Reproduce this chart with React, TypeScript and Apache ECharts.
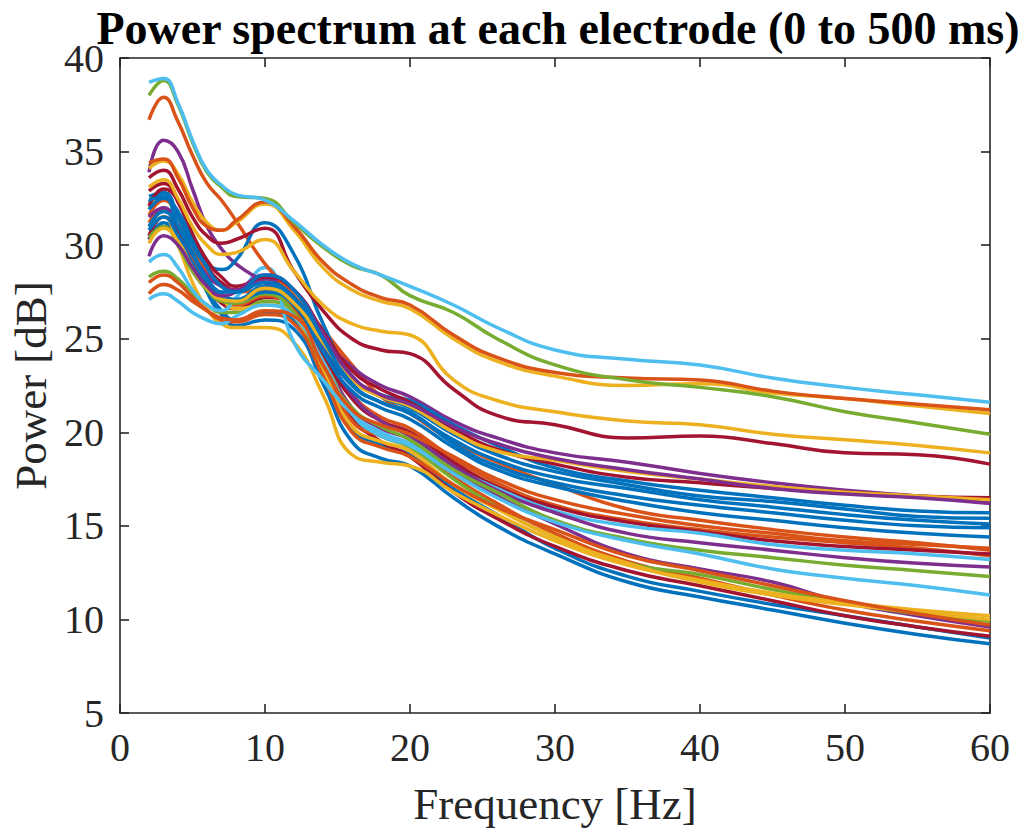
import React, { useEffect, useRef } from "react";
import * as echarts from "echarts";

const titleText = "Power spectrum at each electrode (0 to 500 ms)";
const xName = "Frequency [Hz]";
const yName = "Power [dB]";

const freqs = [2, 3, 4, 5, 6, 7, 8, 10, 12, 14, 16, 18, 20, 23, 26, 30, 35, 40, 45, 50, 55, 60];

const BLUE = "#0072BD";
const ORANGE = "#D95319";
const YELLOW = "#EDB120";
const PURPLE = "#7E2F8E";
const GREEN = "#77AC30";
const CYAN = "#4DBEEE";
const DARKRED = "#A2142F";

// lowest cluster
const e24 = [32.3, 32.8, 31.5, 29.3, 27.5, 26.3, 25.7, 26.0, 25.5, 22.6, 19.5, 18.6, 18.2, 16.5, 15.0, 13.5, 12.0, 11.2, 10.5, 9.8, 9.2, 8.7];
const e25 = [30.3, 31.2, 30.4, 29.0, 27.6, 26.5, 26.0, 26.4, 26.0, 23.2, 20.2, 19.3, 18.8, 17.0, 15.6, 13.8, 12.3, 11.5, 10.8, 10.2, 9.6, 9.0];
const e26 = [30.5, 31.5, 30.8, 29.2, 27.8, 26.9, 26.6, 27.2, 26.6, 23.8, 20.8, 19.5, 18.7, 16.8, 15.4, 13.9, 12.6, 11.8, 11.0, 10.2, 9.6, 9.1];
const e27 = [31.2, 31.9, 31.0, 29.3, 28.0, 27.2, 26.8, 27.3, 26.4, 23.6, 20.6, 19.8, 19.3, 17.6, 16.2, 14.6, 13.1, 12.2, 11.3, 10.5, 9.9, 9.4];
const e28 = [30.3, 31.0, 30.4, 29.0, 27.8, 27.1, 27.0, 27.8, 27.0, 24.2, 21.3, 20.2, 19.6, 17.9, 16.6, 15.1, 13.5, 12.7, 12.0, 10.9, 10.2, 9.6];
const e29 = [28.3, 28.6, 28.2, 27.4, 26.8, 26.4, 26.4, 27.0, 26.4, 24.0, 21.0, 19.8, 19.2, 17.5, 16.0, 14.4, 13.0, 12.4, 11.6, 10.9, 10.3, 9.9];
const e30 = [32.0, 32.6, 31.5, 29.8, 28.2, 27.2, 26.6, 26.8, 26.2, 23.3, 20.3, 19.5, 19.0, 17.2, 15.9, 14.4, 13.0, 12.0, 11.3, 10.8, 10.4, 10.0];
const e23 = [31.0, 31.5, 30.0, 28.0, 26.6, 25.8, 25.6, 25.6, 24.8, 22.0, 18.8, 18.4, 18.2, 16.8, 15.6, 14.2, 12.9, 12.1, 11.4, 10.9, 10.5, 10.2];
const e32 = [28.0, 28.4, 28.0, 27.2, 26.5, 26.0, 25.9, 26.3, 25.8, 23.0, 20.0, 19.2, 18.7, 17.2, 16.0, 14.8, 13.4, 12.6, 11.8, 11.0, 10.3, 9.7];

// lower-middle cluster
const e16 = [31.6, 32.4, 31.6, 30.0, 28.6, 27.8, 27.5, 27.6, 26.5, 24.0, 22.0, 20.8, 20.2, 18.6, 17.3, 16.1, 15.3, 14.8, 14.4, 14.1, 13.8, 13.4];
const e17 = [32.9, 33.3, 32.3, 30.5, 28.9, 28.0, 27.6, 28.2, 27.0, 24.2, 21.8, 20.6, 20.0, 18.4, 17.1, 16.0, 15.2, 14.7, 14.2, 13.9, 13.7, 13.5];
const e18 = [29.1, 29.5, 28.8, 27.6, 26.8, 26.5, 27.2, 28.8, 24.8, 22.8, 21.0, 20.0, 19.4, 18.1, 17.0, 15.8, 15.0, 14.6, 14.0, 13.7, 13.5, 13.2];
const e19 = [31.5, 32.0, 31.0, 29.5, 28.4, 27.8, 27.6, 28.2, 27.2, 24.5, 22.0, 20.6, 19.8, 18.2, 16.9, 15.7, 14.6, 14.1, 13.7, 13.3, 13.0, 12.8];
const e20 = [30.4, 31.0, 30.0, 28.6, 27.6, 27.0, 26.9, 27.4, 26.4, 23.6, 21.3, 20.3, 19.6, 18.0, 16.8, 15.3, 14.3, 13.7, 13.3, 12.9, 12.6, 12.3];
const e21 = [27.1, 27.4, 27.0, 26.4, 26.0, 25.8, 26.2, 26.8, 26.2, 23.8, 21.0, 19.8, 19.3, 17.8, 16.5, 15.2, 14.2, 13.5, 12.7, 12.2, 11.8, 11.3];
const e22 = [27.4, 27.9, 27.6, 27.0, 26.5, 26.1, 26.0, 26.5, 26.2, 23.6, 21.2, 20.4, 19.9, 18.7, 17.5, 16.4, 15.6, 15.0, 14.6, 14.2, 14.0, 13.8];

// middle cluster
const e07 = [36.7, 37.9, 36.6, 34.8, 33.3, 32.4, 31.3, 29.0, 27.3, 25.5, 23.6, 21.9, 21.0, 19.5, 18.4, 17.2, 15.9, 15.3, 14.8, 14.4, 14.1, 13.7];
const e08 = [33.9, 35.6, 35.0, 33.0, 31.0, 29.8, 29.0, 28.0, 27.0, 25.0, 23.5, 22.5, 21.9, 20.6, 19.7, 18.9, 18.4, 17.8, 17.3, 16.9, 16.6, 16.3];
const e09 = [32.6, 32.8, 31.5, 30.0, 29.0, 28.7, 29.2, 31.2, 29.5, 25.8, 23.0, 22.0, 21.7, 20.4, 19.3, 18.1, 17.4, 16.9, 16.5, 16.1, 15.8, 15.7];
const e10 = [32.1, 33.0, 32.4, 30.6, 29.2, 28.3, 27.8, 28.3, 27.6, 25.4, 23.3, 22.3, 21.6, 20.2, 19.1, 18.3, 17.6, 17.3, 17.0, 16.8, 16.6, 16.5];
const e11 = [31.9, 32.5, 31.8, 30.2, 28.8, 27.8, 27.5, 28.0, 27.2, 25.0, 22.9, 21.9, 21.3, 19.9, 18.8, 17.9, 17.2, 16.6, 16.3, 15.9, 15.5, 15.4];
const e12 = [31.0, 31.8, 31.0, 29.6, 28.2, 27.4, 27.1, 27.8, 27.0, 24.7, 22.5, 21.6, 21.0, 19.6, 18.5, 17.6, 17.0, 16.4, 16.0, 15.6, 15.3, 15.1];
const e13 = [30.8, 31.5, 30.5, 29.0, 27.9, 27.2, 27.0, 27.5, 26.8, 24.3, 22.2, 21.3, 20.7, 19.2, 18.0, 17.1, 16.3, 15.7, 15.3, 14.9, 14.6, 14.4];
const e14 = [30.1, 30.9, 30.2, 28.8, 27.7, 27.1, 27.0, 27.7, 26.9, 24.8, 22.8, 21.9, 21.4, 20.0, 19.0, 18.5, 17.9, 17.5, 17.1, 16.8, 16.6, 16.4];
const e15 = [29.4, 30.5, 30.0, 28.8, 27.8, 27.3, 27.5, 28.4, 27.6, 25.3, 23.0, 22.0, 21.5, 20.3, 19.4, 18.6, 18.0, 17.5, 17.0, 16.7, 16.5, 16.2];
const e31 = [32.4, 32.6, 31.0, 29.5, 28.2, 27.5, 27.5, 28.4, 27.6, 25.0, 22.6, 21.6, 21.1, 19.4, 18.2, 17.3, 16.6, 16.1, 15.7, 15.3, 15.0, 14.9];

// upper group
const e01 = [38.7, 38.9, 37.6, 35.6, 34.0, 33.2, 32.7, 32.4, 31.3, 30.0, 29.0, 28.4, 27.8, 26.8, 25.6, 24.4, 23.9, 23.6, 22.9, 22.4, 22.0, 21.6];
const e02 = [38.0, 38.8, 37.5, 35.5, 33.9, 33.1, 32.6, 32.5, 31.2, 29.9, 28.9, 28.4, 27.3, 26.4, 25.0, 23.6, 22.8, 22.4, 21.9, 21.1, 20.5, 19.9];
const e03 = [34.4, 34.6, 33.6, 32.0, 31.0, 30.8, 31.3, 32.3, 31.0, 29.1, 27.9, 27.2, 26.8, 25.2, 24.0, 23.2, 22.9, 22.8, 22.2, 21.8, 21.5, 21.2];
const e04 = [34.1, 34.5, 33.8, 32.3, 31.2, 30.8, 31.2, 32.2, 30.8, 28.8, 27.6, 27.0, 26.6, 25.0, 23.8, 23.0, 22.5, 22.6, 22.1, 21.8, 21.4, 21.0];
const e05 = [33.1, 33.5, 32.5, 31.0, 30.0, 29.5, 29.6, 30.3, 28.6, 26.8, 25.8, 25.4, 25.2, 22.8, 21.7, 21.1, 20.6, 20.4, 19.9, 19.6, 19.3, 18.9];
const e06 = [33.6, 34.0, 33.0, 31.5, 30.5, 30.1, 30.3, 30.9, 28.6, 26.5, 25.0, 24.4, 24.2, 22.3, 20.9, 20.4, 19.7, 19.8, 19.4, 18.9, 18.8, 18.3];

const electrodes = [
  e24, e25, e26, e27, e28, e29, e30, e23, e32,
  e16, e17, e18, e19, e20, e21, e22,
  e07, e08, e09, e10, e11, e12, e13, e14, e15, e31,
  e06, e05, e04, e03, e02, e01,
];
const electrodeColors = [
  BLUE, BLUE, DARKRED, ORANGE, PURPLE, GREEN, YELLOW, YELLOW, ORANGE,
  ORANGE, DARKRED, CYAN, PURPLE, GREEN, CYAN, ORANGE,
  ORANGE, PURPLE, BLUE, DARKRED, BLUE, BLUE, BLUE, YELLOW, PURPLE, BLUE,
  DARKRED, YELLOW, YELLOW, ORANGE, GREEN, CYAN,
];

const FONT = "'Liberation Serif', 'Times New Roman', serif";
const AX = "#262626";

export default function App() {
  const ref = useRef<HTMLDivElement>(null);
  useEffect(() => {
    if (!ref.current) return;
    const chart = echarts.init(ref.current, undefined, { renderer: "svg" });
    const series = electrodes.map((vals, i) => ({
      type: "line",
      name: "E" + (i + 1),
      data: freqs.map((f, j) => [f, vals[j]]),
      showSymbol: false,
      symbol: "none",
      smooth: 0.5,
      lineStyle: { width: 3.5, color: electrodeColors[i] },
      itemStyle: { color: electrodeColors[i] },
      z: 2,
    }));
    const baseAxisLine = { show: true, onZero: false, lineStyle: { color: AX, width: 1.6 } };
    const tick = { show: true, inside: true, length: 9, lineStyle: { color: AX, width: 1.6 } };
    chart.setOption({
      animation: false,
      backgroundColor: "#ffffff",
      title: {
        text: titleText,
        left: 553,
        top: 0,
        textAlign: "center",
        textStyle: { fontFamily: FONT, fontWeight: "bold", fontSize: 46, color: "#000" },
      },
      grid: { left: 120, right: 39, top: 58, bottom: 123, containLabel: false },
      xAxis: [
        {
          type: "value", min: 0, max: 60, interval: 10, position: "bottom",
          name: xName, nameLocation: "middle", nameGap: 68,
          nameTextStyle: { fontFamily: FONT, fontSize: 45, color: AX },
          axisLine: baseAxisLine,
          axisTick: tick,
          axisLabel: { fontFamily: FONT, fontSize: 40, color: AX, margin: 14 },
          splitLine: { show: false },
        },
        {
          type: "value", min: 0, max: 60, interval: 10, position: "top",
          axisLine: baseAxisLine,
          axisTick: tick,
          axisLabel: { show: false },
          splitLine: { show: false },
        },
      ],
      yAxis: [
        {
          type: "value", min: 5, max: 40, interval: 5, position: "left",
          name: yName, nameLocation: "middle", nameGap: 66,
          nameTextStyle: { fontFamily: FONT, fontSize: 45, color: AX },
          axisLine: baseAxisLine,
          axisTick: tick,
          axisLabel: { fontFamily: FONT, fontSize: 40, color: AX, margin: 16 },
          splitLine: { show: false },
        },
        {
          type: "value", min: 5, max: 40, interval: 5, position: "right",
          axisLine: baseAxisLine,
          axisTick: tick,
          axisLabel: { show: false },
          splitLine: { show: false },
        },
      ],
      series,
    });
    return () => chart.dispose();
  }, []);
  return (
    <div
      ref={ref}
      style={{ position: "fixed", left: 0, top: 0, width: 1029, height: 836, background: "#fff" }}
    />
  );
}
